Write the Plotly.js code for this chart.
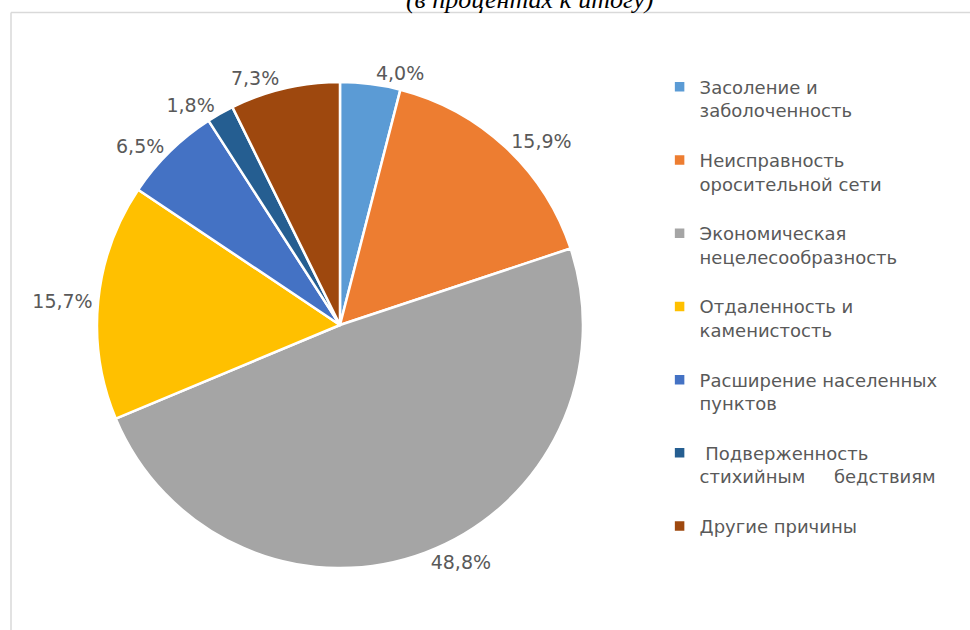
<!DOCTYPE html>
<html>
<head>
<meta charset="utf-8">
<script src="https://cdn.plot.ly/plotly-3.0.1.min.js"></script>
<style>html,body{margin:0;padding:0;background:#fff;}#chart{width:970px;height:630px;}</style>
</head>
<body>
<div id="chart"></div>
<script>
const categories = [
  "Засоление и<br>заболоченность",
  "Неисправность<br>оросительной сети",
  "Экономическая<br>нецелесообразность",
  "Отдаленность и<br>каменистость",
  "Расширение населенных<br>пунктов",
  " Подверженность<br>стихийным     бедствиям",
  "Другие причины"
];
const shares = [4.0, 15.9, 48.8, 15.7, 6.5, 1.8, 7.3];
const shareLabels = ["4,0%", "15,9%", "48,8%", "15,7%", "6,5%", "1,8%", "7,3%"];
const sliceColors = ["#5B9BD5", "#ED7D31", "#A5A5A5", "#FFC000", "#4472C4", "#255E91", "#9E480E"];
const chartTitle = "(в процентах к итогу)";

const legendNames = categories.map(c => c + "<br> ");

const trace = {
  type: "pie",
  labels: legendNames,
  values: shares,
  text: shareLabels,
  textinfo: "text",
  texttemplate: "%{text}",
  textposition: "outside",
  outsidetextfont: {family: "DejaVu Sans, sans-serif", size: 19, color: "#595959"},
  sort: false,
  direction: "clockwise",
  rotation: 0,
  marker: {colors: sliceColors, line: {color: "#ffffff", width: 2.5}},
  domain: {x: [0.1, 0.601], y: [0.0984, 0.8698]},
  hoverinfo: "none"
};

const layout = {
  width: 970, height: 630,
  margin: {l: 0, r: 0, t: 0, b: 0},
  paper_bgcolor: "#ffffff",
  font: {family: "DejaVu Sans, sans-serif", color: "#595959"},
  title: {
    text: "<i>" + chartTitle + "</i>",
    font: {family: "Liberation Serif, serif", size: 26, color: "#000000"},
    x: 0.546, xanchor: "center", xref: "paper",
    y: 1 - 7.5 / 630, yanchor: "bottom", yref: "container"
  },
  showlegend: true,
  legend: {
    x: 0.68, xanchor: "left",
    y: 0.891, yanchor: "top",
    valign: "top",
    font: {family: "DejaVu Sans, sans-serif", size: 18, color: "#595959"},
    bgcolor: "rgba(0,0,0,0)"
  },
  shapes: [
    {type: "line", xref: "paper", yref: "paper", x0: 11/970, x1: 1.01, y0: 1 - 12.5/630, y1: 1 - 12.5/630, line: {color: "#D9D9D9", width: 1.5}},
    {type: "line", xref: "paper", yref: "paper", x0: 11/970, x1: 11/970, y0: 1 - 12.5/630, y1: -0.01, line: {color: "#D9D9D9", width: 1.5}}
  ]
};

Plotly.newPlot("chart", [trace], layout, {displayModeBar: false, staticPlot: true});
</script>
</body>
</html>
